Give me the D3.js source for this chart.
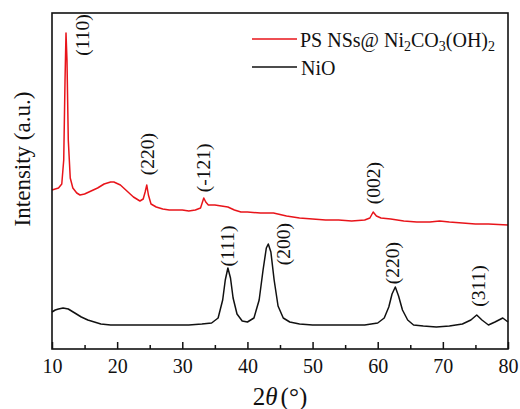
<!DOCTYPE html>
<html>
<head>
<meta charset="utf-8">
<script src="https://cdn.jsdelivr.net/npm/d3@7"></script>
<style>
  body { margin: 0; background: #fff; }
  svg { display: block; }
  text { font-family: "Liberation Serif", "Times New Roman", serif; fill: #111; }
</style>
</head>
<body>
<div id="chart"></div>
<script>
// XRD patterns: [2theta, intensity (a.u.)]
const psNiCarbonate = [
  [10.0, 159], [10.5, 160], [11.0, 161], [11.5, 165], [11.8, 189], [12.0, 269],
  [12.15, 316], [12.3, 289], [12.5, 209], [12.8, 171], [13.2, 161], [13.8, 156],
  [14.3, 154], [15.0, 155], [16.0, 158], [17.0, 161], [18.0, 165], [19.0, 167],
  [19.5, 167], [20.5, 164], [21.5, 158], [22.5, 152], [23.5, 148], [24.0, 150],
  [24.3, 157], [24.55, 164], [24.8, 154], [25.2, 145], [26.0, 142], [27.0, 140],
  [28.0, 139], [29.0, 139], [30.0, 139], [31.0, 138], [32.0, 139], [32.8, 141],
  [33.1, 147], [33.3, 151], [33.6, 147], [34.0, 144], [35.0, 144], [36.0, 143],
  [37.0, 142], [38.0, 139], [39.0, 137], [40.0, 137], [42.0, 136], [44.0, 136],
  [46.0, 133], [48.0, 131], [50.0, 130], [52.0, 129], [54.0, 129], [56.0, 128],
  [58.0, 129], [58.8, 131], [59.3, 137], [59.8, 133], [60.5, 131], [62.0, 130],
  [64.0, 128], [66.0, 127], [68.0, 127], [69.5, 128], [71.0, 127], [73.0, 126],
  [75.0, 125], [77.0, 125], [80.0, 124]
];

const nio = [
  [10.0, 37], [10.5, 39], [11.0, 40], [11.7, 41], [12.5, 40], [13.5, 36],
  [14.5, 32], [15.5, 29], [16.5, 27], [17.5, 25], [19.0, 24], [21.0, 24],
  [23.0, 24], [25.0, 24], [27.0, 24], [29.0, 24], [31.0, 24], [33.0, 25],
  [34.5, 26], [35.5, 31], [36.2, 49], [36.6, 69], [37.0, 81], [37.4, 71],
  [37.8, 51], [38.4, 35], [39.2, 28], [40.0, 27], [41.0, 31], [41.8, 49],
  [42.4, 79], [42.9, 101], [43.2, 105], [43.6, 97], [44.1, 69], [44.7, 43],
  [45.5, 31], [46.5, 27], [48.0, 25], [50.0, 24], [52.0, 24], [54.0, 24],
  [56.0, 24], [58.0, 24], [60.0, 26], [61.0, 31], [61.7, 42], [62.2, 55],
  [62.7, 62], [63.2, 53], [63.8, 39], [64.6, 29], [65.5, 24], [67.0, 23],
  [69.0, 22], [71.0, 23], [73.0, 25], [74.3, 29], [75.2, 34], [76.0, 29],
  [77.0, 24], [78.0, 27], [79.2, 31], [80.0, 27]
];

// peak labels: [text, 2theta, intensity at label centre]
const peakLabels = [
  ["(110)", 14.7, 314], ["(220)", 24.7, 195], ["(-121)", 33.3, 181], ["(002)", 59.4, 166],
  ["(111)", 36.9, 103], ["(200)", 45.6, 105], ["(220)", 62.3, 86], ["(311)", 75.4, 63]
];

const majorTicks = [10, 20, 30, 40, 50, 60, 70, 80];
const minorTicks = [15, 25, 35, 45, 55, 65, 75];

const width = 520, height = 409;
const margin = {top: 13, right: 12, bottom: 60, left: 52};

const svg = d3.select("#chart").append("svg")
  .attr("width", width)
  .attr("height", height);

const x = d3.scaleLinear([10, 80], [margin.left, width - margin.right]);
const y = d3.scaleLinear([0, 336], [height - margin.bottom, margin.top]);

const line = d3.line()
  .x(d => x(d[0]))
  .y(d => y(d[1]));

svg.append("path")
  .datum(psNiCarbonate)
  .attr("fill", "none")
  .attr("stroke", "#e8141a")
  .attr("stroke-width", 1.5)
  .attr("stroke-linejoin", "round")
  .attr("d", line);

svg.append("path")
  .datum(nio)
  .attr("fill", "none")
  .attr("stroke", "#111")
  .attr("stroke-width", 1.5)
  .attr("stroke-linejoin", "round")
  .attr("d", line);

// bottom axis, ticks pointing inward
const xAxis = svg.append("g")
  .attr("transform", `translate(0,${height - margin.bottom})`)
  .call(d3.axisBottom(x).tickValues(majorTicks).tickSize(-7).tickPadding(10).tickFormat(d3.format("d")));
xAxis.select(".domain").remove();
xAxis.selectAll("line").attr("stroke", "#111").attr("stroke-width", 1.5);
xAxis.selectAll("text").style("font-size", "20px").style("font-family", "Liberation Serif, serif").attr("fill", "#111");

const xMinor = svg.append("g")
  .attr("transform", `translate(0,${height - margin.bottom})`)
  .call(d3.axisBottom(x).tickValues(minorTicks).tickSize(-4).tickFormat(""));
xMinor.select(".domain").remove();
xMinor.selectAll("line").attr("stroke", "#111").attr("stroke-width", 1.5);

// frame
svg.append("rect")
  .attr("x", margin.left)
  .attr("y", margin.top)
  .attr("width", width - margin.left - margin.right)
  .attr("height", height - margin.top - margin.bottom)
  .attr("fill", "none")
  .attr("stroke", "#111")
  .attr("stroke-width", 1.6);

// peak labels
svg.append("g")
  .selectAll("text")
  .data(peakLabels)
  .join("text")
    .attr("transform", d => `translate(${x(d[1])},${y(d[2])}) rotate(-90)`)
    .attr("text-anchor", "middle")
    .attr("dominant-baseline", "central")
    .style("font-size", "19.5px")
    .text(d => d[0]);

// axis titles
const xTitle = svg.append("text")
  .attr("x", 280)
  .attr("y", 405)
  .attr("text-anchor", "middle")
  .style("font-size", "25px");
xTitle.append("tspan").text("2");
xTitle.append("tspan").style("font-style", "italic").text("θ");
xTitle.append("tspan").attr("dx", 3).text("(°)");

svg.append("text")
  .attr("transform", "translate(30,159) rotate(-90)")
  .attr("text-anchor", "middle")
  .style("font-size", "23px")
  .text("Intensity (a.u.)");

// legend
const legend = svg.append("g");
const entries = [
  {color: "#e8141a", y: 39},
  {color: "#111", y: 67}
];
legend.selectAll("line")
  .data(entries)
  .join("line")
    .attr("x1", 252).attr("x2", 297)
    .attr("y1", d => d.y).attr("y2", d => d.y)
    .attr("stroke", d => d.color)
    .attr("stroke-width", 1.4);

const t1 = legend.append("text").attr("x", 300).attr("y", 47).style("font-size", "20px");
t1.append("tspan").text("PS NSs@ Ni");
t1.append("tspan").attr("dy", 4).style("font-size", "14px").text("2");
t1.append("tspan").attr("dy", -4).text("CO");
t1.append("tspan").attr("dy", 4).style("font-size", "14px").text("3");
t1.append("tspan").attr("dy", -4).text("(OH)");
t1.append("tspan").attr("dy", 4).style("font-size", "14px").text("2");

legend.append("text").attr("x", 301).attr("y", 75).style("font-size", "20px").text("NiO");
</script>
</body>
</html>
